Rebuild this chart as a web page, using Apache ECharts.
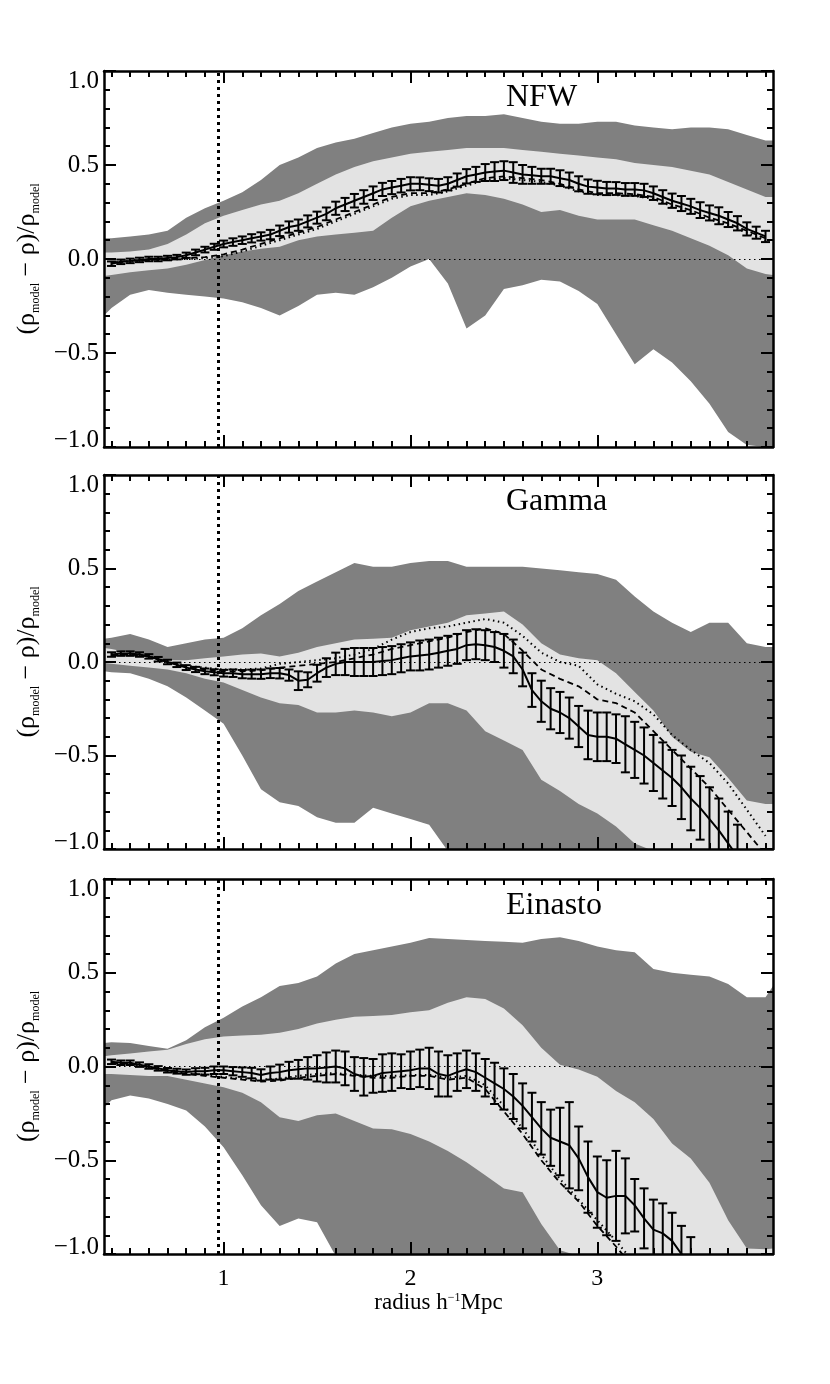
<!DOCTYPE html>
<html><head><meta charset="utf-8">
<script src="https://cdn.jsdelivr.net/npm/echarts@6/dist/echarts.min.js"></script>
<style>html,body{margin:0;padding:0;background:#fff}#c{width:830px;height:1384px}</style>
</head><body><div id="c"></div>
<script>
// ---------------- DATA ----------------
const panelTitles = ['NFW', 'Gamma', 'Einasto'];
const xMajorTicks = [1, 2, 3];
const xMinorTicks = [0.4,0.5,0.6,0.7,0.8,0.9,1.0,1.1,1.2,1.3,1.4,1.5,1.6,1.7,1.8,1.9,2.0,2.1,2.2,2.3,2.4,2.5,2.6,2.7,2.8,2.9,3.0,3.1,3.2,3.3,3.4,3.5,3.6,3.7,3.8,3.9];
const coreRadius = 0.97;
const xRange = [0.36, 3.94];
const yRange = [-1, 1];

// x positions of the scatter bands
const bandX = [0.36,0.4,0.5,0.6,0.7,0.8,0.9,1.0,1.1,1.2,1.3,1.4,1.5,1.6,1.7,1.8,1.9,2.0,2.1,2.2,2.3,2.4,2.5,2.6,2.7,2.8,2.9,3.0,3.1,3.2,3.3,3.4,3.5,3.6,3.7,3.8,3.9,3.94];
// x positions of the mean profile with error bars
const lineX = [0.40,0.45,0.50,0.55,0.60,0.65,0.70,0.75,0.80,0.85,0.90,0.95,1.00,1.05,1.10,1.15,1.20,1.25,1.30,1.35,1.40,1.45,1.50,1.55,1.60,1.65,1.70,1.75,1.80,1.85,1.90,1.95,2.00,2.05,2.10,2.15,2.20,2.25,2.30,2.35,2.40,2.45,2.50,2.55,2.60,2.65,2.70,2.75,2.80,2.85,2.90,2.95,3.00,3.05,3.10,3.15,3.20,3.25,3.30,3.35,3.40,3.45,3.50,3.55,3.60,3.65,3.70,3.75,3.80,3.85,3.90];
// x positions of the dashed / dotted curves
const modelX = [0.4,0.5,0.6,0.7,0.8,0.9,1.0,1.1,1.2,1.3,1.4,1.5,1.6,1.7,1.8,1.9,2.0,2.1,2.2,2.3,2.4,2.5,2.6,2.7,2.8,2.9,3.0,3.1,3.2,3.3,3.4,3.5,3.6,3.7,3.8,3.9];

// NFW
const nfwOuterHigh = [0.11,0.11,0.12,0.13,0.15,0.22,0.27,0.31,0.355,0.42,0.50,0.54,0.59,0.62,0.64,0.67,0.70,0.72,0.73,0.75,0.76,0.76,0.77,0.75,0.73,0.72,0.72,0.73,0.73,0.71,0.70,0.69,0.70,0.70,0.69,0.66,0.63,0.63];
const nfwInnerHigh = [0.035,0.035,0.04,0.05,0.08,0.13,0.19,0.23,0.26,0.29,0.31,0.35,0.40,0.45,0.49,0.52,0.54,0.56,0.57,0.58,0.59,0.59,0.59,0.58,0.57,0.56,0.55,0.54,0.53,0.51,0.50,0.49,0.47,0.45,0.41,0.37,0.33,0.33];
const nfwInnerLow = [-0.09,-0.085,-0.07,-0.06,-0.05,-0.03,-0.005,0.02,0.04,0.055,0.065,0.10,0.12,0.13,0.14,0.15,0.22,0.28,0.31,0.33,0.35,0.34,0.32,0.29,0.25,0.26,0.23,0.21,0.21,0.21,0.18,0.15,0.11,0.07,0.02,-0.05,-0.08,-0.085];
const nfwOuterLow = [-0.30,-0.26,-0.19,-0.165,-0.18,-0.19,-0.20,-0.21,-0.23,-0.26,-0.30,-0.25,-0.19,-0.18,-0.19,-0.15,-0.10,-0.04,0.00,-0.13,-0.37,-0.30,-0.16,-0.14,-0.11,-0.12,-0.17,-0.24,-0.40,-0.56,-0.48,-0.55,-0.65,-0.77,-0.92,-0.99,-1.0,-1.0];
const nfwMean = [-0.025,-0.015,-0.01,-0.005,0,0,0.005,0.01,0.02,0.035, 0.05,0.065,0.08,0.09,0.10,0.11,0.12,0.13,0.15,0.17, 0.18,0.20,0.22,0.24,0.27,0.29,0.31,0.33,0.35,0.37, 0.38,0.39,0.40,0.40,0.395,0.39,0.40,0.42,0.44,0.45, 0.46,0.465,0.47,0.46,0.45,0.445,0.44,0.44,0.43,0.42, 0.40,0.385,0.38,0.375,0.375,0.37,0.37,0.365,0.35,0.33, 0.31,0.295,0.28,0.26,0.245,0.23,0.21,0.19,0.16,0.14, 0.12];
const nfwErr = [0.012,0.012,0.012,0.012,0.012,0.012,0.012,0.012,0.014,0.015, 0.015,0.016,0.018,0.02,0.02,0.022,0.022,0.025,0.028,0.03, 0.03,0.032,0.032,0.034,0.035,0.035,0.036,0.036,0.036,0.035, 0.035,0.036,0.035,0.034,0.034,0.036,0.035,0.035,0.038,0.04, 0.045,0.05,0.05,0.055,0.05,0.045,0.04,0.04,0.042,0.04, 0.04,0.038,0.036,0.035,0.034,0.034,0.034,0.035,0.036,0.036, 0.038,0.04,0.04,0.042,0.04,0.045,0.04,0.038,0.035,0.032, 0.03];
const nfwDashed = [-0.02,-0.01,-0.005,0,0.005,0.01,0.025,0.05,0.08,0.11, 0.14,0.17,0.21,0.25,0.29,0.33,0.35,0.35,0.37,0.40, 0.43,0.44,0.43,0.42,0.40,0.37,0.35,0.35,0.345,0.33, 0.29,0.26,0.22,0.19,0.15,0.11];
const nfwDotted = [-0.02,-0.012,-0.008,-0.003,0,0.005,0.015,0.04,0.07,0.10, 0.13,0.16,0.20,0.24,0.28,0.32,0.34,0.34,0.36,0.39, 0.42,0.43,0.42,0.41,0.39,0.36,0.34,0.34,0.335,0.32, 0.28,0.25,0.21,0.18,0.14,0.10];

// Gamma
const gammaOuterHigh = [0.125,0.13,0.15,0.12,0.08,0.10,0.12,0.13,0.18,0.25, 0.31,0.38,0.43,0.48,0.53,0.51,0.51,0.53,0.54,0.54, 0.51,0.51,0.51,0.51,0.50,0.49,0.48,0.47,0.44,0.35, 0.27,0.21,0.16,0.21,0.21,0.10,0.08,0.08];
const gammaInnerHigh = [0.075,0.07,0.05,0.02,0.01,0.01,0.02,0.03,0.04,0.045, 0.03,0.05,0.08,0.10,0.12,0.125,0.13,0.17,0.19,0.21, 0.25,0.26,0.27,0.20,0.10,0.04,0.02,0.01,-0.06,-0.16, -0.26,-0.40,-0.48,-0.51,-0.62,-0.74,-0.76,-0.76];
const gammaInnerLow = [-0.005,-0.01,-0.02,-0.03,-0.04,-0.06,-0.09,-0.11,-0.15,-0.19, -0.22,-0.23,-0.27,-0.27,-0.26,-0.27,-0.29,-0.27,-0.22,-0.22, -0.26,-0.37,-0.42,-0.47,-0.63,-0.69,-0.76,-0.81,-0.88,-0.97, -1.05,-1.1,-1.2,-1.2,-1.2,-1.2,-1.2,-1.2];
const gammaOuterLow = [-0.05,-0.055,-0.06,-0.09,-0.13,-0.19,-0.26,-0.33,-0.50,-0.68, -0.75,-0.77,-0.83,-0.86,-0.86,-0.78,-0.81,-0.84,-0.87,-1.02, -1.1,-1.2,-1.2,-1.2,-1.2,-1.2,-1.2,-1.2,-1.2,-1.2, -1.2,-1.2,-1.2,-1.2,-1.2,-1.2,-1.2,-1.2];
const gammaMean = [0.04,0.045,0.045,0.04,0.03,0.015,0.0,-0.015,-0.03,-0.04, -0.05,-0.055,-0.06,-0.06,-0.065,-0.065,-0.065,-0.06,-0.06,-0.07, -0.10,-0.095,-0.06,-0.03,-0.01,0.0,0.0,0.0,0.0,0.005, 0.01,0.02,0.03,0.035,0.04,0.05,0.06,0.07,0.09,0.095, 0.09,0.08,0.06,0.03,-0.04,-0.15,-0.21,-0.25,-0.27,-0.30, -0.345,-0.39,-0.40,-0.40,-0.41,-0.44,-0.47,-0.50,-0.54,-0.58, -0.62,-0.67,-0.73,-0.78,-0.84,-0.90,-0.97,-1.04];
const gammaErr = [0.012,0.012,0.012,0.012,0.012,0.012,0.012,0.012,0.013,0.014, 0.015,0.016,0.018,0.02,0.022,0.024,0.025,0.026,0.028,0.03, 0.05,0.04,0.045,0.05,0.06,0.07,0.075,0.075,0.075,0.075, 0.075,0.075,0.075,0.08,0.08,0.08,0.08,0.08,0.08,0.08, 0.08,0.08,0.09,0.09,0.09,0.09,0.11,0.11,0.11,0.11, 0.11,0.13,0.13,0.13,0.13,0.15,0.15,0.15,0.15,0.15, 0.15,0.17,0.17,0.17,0.17,0.17,0.17,0.17];
const gammaDashed = [0.035,0.04,0.03,0.0,-0.025,-0.04,-0.05,-0.05,-0.045,-0.03, -0.02,-0.01,0.0,0.02,0.04,0.07,0.09,0.11,0.13,0.16, 0.18,0.15,0.06,-0.04,-0.09,-0.13,-0.20,-0.22,-0.27,-0.37, -0.47,-0.57,-0.67,-0.79,-0.91,-1.03];
const gammaDotted = [0.04,0.04,0.03,0.0,-0.02,-0.03,-0.04,-0.04,-0.035,-0.01, 0.0,0.01,0.02,0.04,0.07,0.12,0.16,0.18,0.19,0.21, 0.23,0.21,0.14,0.05,0.0,-0.02,-0.12,-0.17,-0.21,-0.28, -0.39,-0.47,-0.54,-0.65,-0.79,-0.93];

// Einasto
const einastoOuterHigh = [0.125,0.13,0.125,0.11,0.095,0.14,0.21,0.26,0.32,0.37, 0.43,0.445,0.48,0.55,0.60,0.62,0.64,0.66,0.685,0.68, 0.675,0.67,0.665,0.66,0.68,0.69,0.67,0.64,0.62,0.61, 0.52,0.50,0.49,0.48,0.44,0.37,0.37,0.43];
const einastoInnerHigh = [0.055,0.06,0.07,0.08,0.09,0.12,0.145,0.16,0.165,0.17, 0.18,0.20,0.23,0.25,0.265,0.27,0.275,0.29,0.30,0.34, 0.37,0.36,0.31,0.22,0.10,0.01,-0.016,-0.055,-0.13,-0.19, -0.28,-0.41,-0.49,-0.62,-0.82,-0.97,-0.975,-0.97];
const einastoInnerLow = [-0.04,-0.04,-0.045,-0.05,-0.05,-0.07,-0.09,-0.11,-0.14,-0.19, -0.27,-0.29,-0.26,-0.25,-0.29,-0.33,-0.335,-0.36,-0.40,-0.45, -0.51,-0.58,-0.65,-0.67,-0.84,-0.98,-1.1,-1.2,-1.2,-1.2, -1.2,-1.2,-1.2,-1.2,-1.2,-1.2,-1.2,-1.2];
const einastoOuterLow = [-0.22,-0.18,-0.155,-0.17,-0.20,-0.235,-0.32,-0.43,-0.58,-0.74, -0.85,-0.81,-0.83,-1.03,-1.2,-1.2,-1.2,-1.2,-1.2,-1.2, -1.2,-1.2,-1.2,-1.2,-1.2,-1.2,-1.2,-1.2,-1.2,-1.2, -1.2,-1.2,-1.2,-1.2,-1.2,-1.2,-1.2,-1.2];
const einastoMean = [0.025,0.02,0.02,0.01,0.0,-0.01,-0.02,-0.025,-0.03,-0.025, -0.025,-0.02,-0.02,-0.025,-0.03,-0.035,-0.045,-0.035,-0.03,-0.02, -0.015,-0.01,-0.01,-0.005,0.0,-0.01,-0.04,-0.055,-0.05,-0.035, -0.03,-0.025,-0.02,-0.01,-0.01,-0.04,-0.05,-0.03,-0.015,-0.03, -0.06,-0.09,-0.12,-0.16,-0.21,-0.27,-0.33,-0.38,-0.40,-0.42, -0.49,-0.59,-0.67,-0.70,-0.69,-0.69,-0.74,-0.81,-0.87,-0.89, -0.93,-1.0,-1.06];
const einastoErr = [0.012,0.012,0.012,0.012,0.012,0.012,0.012,0.013,0.014,0.016, 0.018,0.02,0.02,0.022,0.025,0.028,0.03,0.035,0.04,0.045, 0.05,0.06,0.07,0.08,0.085,0.09,0.09,0.1,0.09,0.1, 0.1,0.09,0.1,0.1,0.11,0.12,0.11,0.1,0.1,0.1, 0.1,0.11,0.11,0.12,0.12,0.13,0.14,0.15,0.18,0.23, 0.17,0.19,0.19,0.2,0.24,0.2,0.14,0.16,0.16,0.16, 0.15,0.15,0.15];
const einastoDashed = [0.02,0.015,-0.005,-0.025,-0.04,-0.05,-0.06,-0.07,-0.08,-0.075, -0.06,-0.05,-0.04,-0.05,-0.06,-0.06,-0.05,-0.05,-0.07,-0.06, -0.12,-0.24,-0.36,-0.50,-0.62,-0.72,-0.85,-0.96,-1.08];
const einastoDotted = [0.02,0.015,-0.005,-0.02,-0.035,-0.045,-0.055,-0.065,-0.07,-0.065, -0.05,-0.04,-0.035,-0.045,-0.05,-0.05,-0.045,-0.045,-0.06,-0.05, -0.10,-0.21,-0.33,-0.47,-0.60,-0.71,-0.82,-0.93,-1.05];

// ---------------- BUILD ----------------
const panels = [
  {title: panelTitles[0], oh: nfwOuterHigh, ol: nfwOuterLow, ih: nfwInnerHigh, il: nfwInnerLow, mean: nfwMean, err: nfwErr, dashed: nfwDashed, dotted: nfwDotted},
  {title: panelTitles[1], oh: gammaOuterHigh, ol: gammaOuterLow, ih: gammaInnerHigh, il: gammaInnerLow, mean: gammaMean, err: gammaErr, dashed: gammaDashed, dotted: gammaDotted},
  {title: panelTitles[2], oh: einastoOuterHigh, ol: einastoOuterLow, ih: einastoInnerHigh, il: einastoInnerLow, mean: einastoMean, err: einastoErr, dashed: einastoDashed, dotted: einastoDotted}
];

const FONT = 'Liberation Serif';
const DARK = '#808080', LIGHT = '#e3e3e3';
const gridTops = [71, 475, 879];
const gridHeights = [376, 374, 375];

const pairs = (xs, ys) => ys.map((y, i) => [xs[i], y]);
const fmtY = v => (v < 0 ? '\u2212' : '') + Math.abs(v).toFixed(1);

function bandRenderer(xs, lo, hi, color) {
  return function (params, api) {
    if (params.dataIndex !== 0) return null;
    const pts = [];
    for (let k = 0; k < xs.length; k++) pts.push(api.coord([xs[k], hi[k]]));
    for (let k = xs.length - 1; k >= 0; k--) pts.push(api.coord([xs[k], lo[k]]));
    const cs = params.coordSys;
    const yMin = cs.y - 2, yMax = cs.y + cs.height + 2;
    const clipped = pts.map(p => [p[0], Math.min(Math.max(p[1], yMin), yMax)]);
    return {type: 'polygon', shape: {points: clipped}, style: {fill: color, stroke: null}};
  };
}

function renderErr(params, api) {
  const x = api.value(0), m = api.value(1), e = api.value(2);
  const top = api.coord([x, m + e]), bot = api.coord([x, m - e]);
  const cs = params.coordSys;
  const yMin = cs.y, yMax = cs.y + cs.height;
  const y1 = Math.max(top[1], yMin), y2 = Math.min(bot[1], yMax);
  if (y1 >= y2) return null;
  const st = {stroke: '#000', lineWidth: 2};
  const hw = 4.5;
  const ch = [{type: 'line', shape: {x1: top[0], y1: y1, x2: top[0], y2: y2}, style: st}];
  if (top[1] >= yMin && top[1] <= yMax) ch.push({type: 'line', shape: {x1: top[0] - hw, y1: top[1], x2: top[0] + hw, y2: top[1]}, style: st});
  if (bot[1] >= yMin && bot[1] <= yMax) ch.push({type: 'line', shape: {x1: bot[0] - hw, y1: bot[1], x2: bot[0] + hw, y2: bot[1]}, style: st});
  return {type: 'group', children: ch};
}

const grids = [], xAxes = [], yAxes = [], series = [], titles = [];
panels.forEach((p, i) => {
  grids.push({left: 104, width: 669, top: gridTops[i], height: gridHeights[i]});
  titles.push({text: p.title, left: 506, top: gridTops[i] + 11, padding: 0,
    textStyle: {fontFamily: FONT, fontSize: 32, fontWeight: 'normal', color: '#000'}});
  const axisLine = {show: true, onZero: false, lineStyle: {color: '#000', width: 2.5}};
  const noLine = {show: false, onZero: false};
  const majorTick = {show: true, inside: true, length: 12, lineStyle: {color: '#000', width: 2}, customValues: xMajorTicks};
  const minorTick = {show: true, inside: true, length: 6, lineStyle: {color: '#000', width: 2}, customValues: xMinorTicks};
  const baseX = {gridIndex: i, type: 'value', min: xRange[0], max: xRange[1], splitLine: {show: false}, axisLabel: {show: false}, z: 10};
  const bottomMajor = Object.assign({}, baseX, {position: 'bottom', axisLine: axisLine, axisTick: majorTick});
  if (i === 2) {
    bottomMajor.axisLabel = {show: true, customValues: xMajorTicks, fontFamily: FONT, fontSize: 24, color: '#000', margin: 13};
    bottomMajor.name = 'radius h{sup|\u22121}Mpc';
    bottomMajor.nameLocation = 'middle';
    bottomMajor.nameGap = 29;
    bottomMajor.nameTextStyle = {fontFamily: FONT, fontSize: 23, color: '#000',
      rich: {sup: {fontFamily: FONT, fontSize: 12, color: '#000', verticalAlign: 'top', lineHeight: 22}}};
  }
  xAxes.push(bottomMajor);
  xAxes.push(Object.assign({}, baseX, {position: 'bottom', axisLine: noLine, axisTick: minorTick}));
  xAxes.push(Object.assign({}, baseX, {position: 'top', axisLine: axisLine, axisTick: majorTick}));
  xAxes.push(Object.assign({}, baseX, {position: 'top', axisLine: noLine, axisTick: minorTick}));

  const baseY = {gridIndex: i, type: 'value', min: yRange[0], max: yRange[1], interval: 0.5, z: 10,
    splitLine: {show: false}, axisLine: axisLine,
    axisTick: {show: true, inside: true, length: 12, lineStyle: {color: '#000', width: 2}},
    minorTick: {show: true, splitNumber: 5, length: 6, lineStyle: {color: '#000', width: 2}},
    minorSplitLine: {show: false}};
  yAxes.push(Object.assign({}, baseY, {position: 'left',
    axisLabel: {show: true, fontFamily: FONT, fontSize: 25, color: '#000', margin: 5,
      formatter: v => {
        const s = fmtY(v);
        if (v === yRange[1]) return '{t|' + s + '}';
        if (v === yRange[0]) return '{b|' + s + '}';
        return s;
      },
      rich: {t: {fontFamily: FONT, fontSize: 25, color: '#000', padding: [20, 0, 0, 0]},
             b: {fontFamily: FONT, fontSize: 25, color: '#000', padding: [0, 0, 13, 0]}}},
    name: '{n|(\u03c1}{s|model}{n| \u2212 \u03c1)/\u03c1}{s|model}',
    nameLocation: 'middle', nameRotate: 90, nameGap: 62,
    nameTextStyle: {rich: {
      n: {fontFamily: FONT, fontSize: 26, color: '#000', lineHeight: 30, verticalAlign: 'middle'},
      s: {fontFamily: FONT, fontSize: 12, color: '#000', lineHeight: 14, verticalAlign: 'bottom'}}}}));
  yAxes.push(Object.assign({}, baseY, {position: 'right', axisLabel: {show: false}}));

  const xi = 4 * i, yi = 2 * i;
  const common = {xAxisIndex: xi, yAxisIndex: yi, silent: true, animation: false};
  series.push(Object.assign({}, common, {type: 'custom', clip: true, z: 1,
    data: bandX.map((x, k) => [x, p.ol[k], p.oh[k]]), encode: {x: 0, y: [1, 2]},
    renderItem: bandRenderer(bandX, p.ol, p.oh, DARK)}));
  series.push(Object.assign({}, common, {type: 'custom', clip: true, z: 2,
    data: bandX.map((x, k) => [x, p.il[k], p.ih[k]]), encode: {x: 0, y: [1, 2]},
    renderItem: bandRenderer(bandX, p.il, p.ih, LIGHT)}));
  series.push(Object.assign({}, common, {type: 'line', symbol: 'none', data: pairs(modelX, p.dotted), lineStyle: {color: '#000', width: 2, type: [1.5, 3.5]}, z: 3}));
  series.push(Object.assign({}, common, {type: 'line', symbol: 'none', data: pairs(modelX, p.dashed), lineStyle: {color: '#000', width: 1.8, type: [6, 4]}, z: 3}));
  series.push(Object.assign({}, common, {type: 'line', symbol: 'none', data: pairs(lineX, p.mean), lineStyle: {color: '#000', width: 2}, z: 4,
    markLine: {silent: true, symbol: ['none', 'none'], label: {show: false}, animation: false,
      data: [
        {yAxis: 0, lineStyle: {color: '#000', width: 1.2, type: [1.5, 3.5]}},
        {xAxis: coreRadius, lineStyle: {color: '#000', width: 3, type: [3, 4]}}
      ]}}));
  series.push(Object.assign({}, common, {type: 'custom', z: 5,
    data: p.mean.map((m, k) => [lineX[k], m, p.err[k]]),
    encode: {x: 0, y: 1}, renderItem: renderErr}));
});

const chart = echarts.init(document.getElementById('c'), null, {renderer: 'canvas', width: 830, height: 1384});
chart.setOption({
  animation: false,
  backgroundColor: '#fff',
  title: titles,
  grid: grids,
  xAxis: xAxes,
  yAxis: yAxes,
  series: series
});
</script>
</body></html>
